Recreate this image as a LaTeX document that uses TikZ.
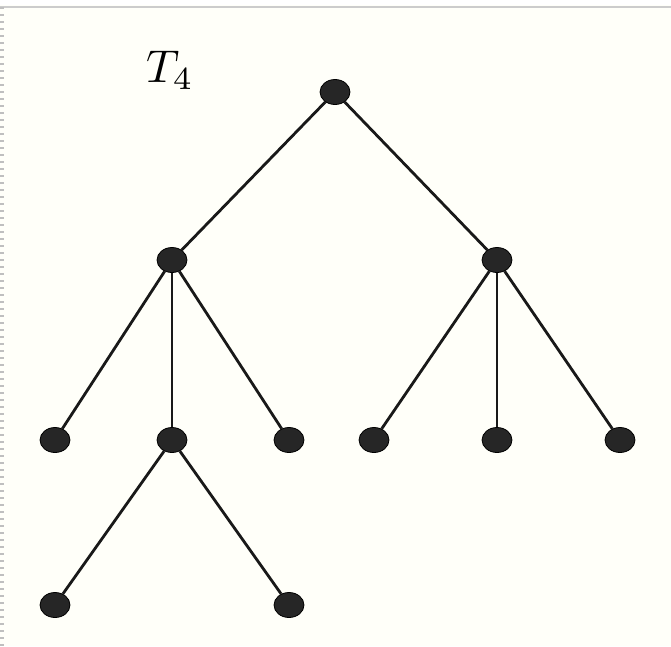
\documentclass[tikz,border=0pt]{standalone}
\usetikzlibrary{shapes.geometric}
\begin{document}
\begin{tikzpicture}[x=1pt,y=-1pt,
  dot/.style={ellipse,fill=black!85,draw=black,line width=0.8pt,minimum width=30pt,minimum height=25pt,inner sep=0pt},
  edge/.style={line width=2.8pt,black!90}]
\fill[white!96!yellow!60!white] (0,0) rectangle (671,646);
\useasboundingbox (0,0) rectangle (671,646);
\fill[white] (0,0) rectangle (671,5);
\draw[black!20,line width=2pt] (0,7) -- (671,7);
\draw[black!25,line width=4pt,dash pattern=on 2pt off 5pt] (2,7) -- (2,646);
\node[scale=4.6] (lbl) at (170,70) {$T_4$};
\node[dot] (r) at (335,92) {};
\node[dot] (a) at (172,260) {};
\node[dot] (b) at (497,260) {};
\node[dot] (a1) at (55,440) {};
\node[dot] (a2) at (172,440) {};
\node[dot] (a3) at (289,440) {};
\node[dot] (b1) at (374,440) {};
\node[dot] (b2) at (497,440) {};
\node[dot] (b3) at (620,440) {};
\node[dot] (c1) at (55,605) {};
\node[dot] (c2) at (289,605) {};
\draw[edge] (r) -- (a);
\draw[edge] (r) -- (b);
\draw[edge] (a) -- (a1);
\draw[edge] (a) -- (a2);
\draw[edge] (a) -- (a3);
\draw[edge] (b) -- (b1);
\draw[edge] (b) -- (b2);
\draw[edge] (b) -- (b3);
\draw[edge] (a2) -- (c1);
\draw[edge] (a2) -- (c2);
\end{tikzpicture}
\end{document}
